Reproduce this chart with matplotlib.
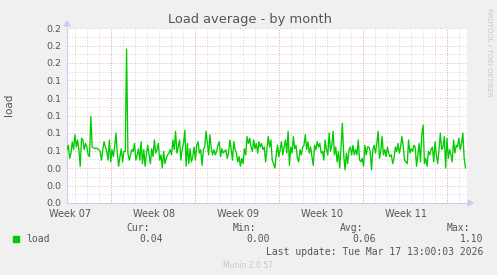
import numpy as np
import matplotlib.pyplot as plt

# load values left to right (2 h steps, ~1.3 px apart)
load = [
    0.061, 0.066, 0.051, 0.057, 0.070, 0.061, 0.078, 0.064, 0.072, 0.061,
    0.042, 0.074, 0.072, 0.061, 0.068, 0.064, 0.055, 0.053, 0.099, 0.064,
    0.063, 0.062, 0.063,
    0.062, 0.061, 0.059, 0.049, 0.061, 0.070, 0.064, 0.059, 0.049, 0.072,
    0.047, 0.061, 0.053, 0.064, 0.080, 0.057, 0.042, 0.053, 0.062, 0.047,
    0.059, 0.059, 0.176, 0.057, 0.049, 0.055, 0.061, 0.059, 0.068, 0.049,
    0.055, 0.062, 0.049, 0.070, 0.045, 0.061, 0.042, 0.057, 0.066, 0.055,
    0.045, 0.062, 0.053, 0.072, 0.057, 0.061, 0.068, 0.049, 0.055, 0.040,
    0.059, 0.045, 0.051, 0.055,
    0.057, 0.061, 0.055, 0.072, 0.061, 0.082, 0.057, 0.064, 0.072, 0.049,
    0.061, 0.068, 0.083, 0.042, 0.068, 0.045, 0.062, 0.047, 0.053, 0.064,
    0.049, 0.066, 0.070, 0.057, 0.061, 0.043, 0.061, 0.064, 0.082, 0.068,
    0.055, 0.078, 0.062, 0.055, 0.061, 0.055, 0.059, 0.066, 0.070, 0.053,
    0.062, 0.057, 0.059, 0.061, 0.051, 0.057, 0.072, 0.062, 0.049, 0.070,
    0.061, 0.057, 0.047, 0.053, 0.042, 0.051, 0.045, 0.062, 0.055, 0.076,
    0.068, 0.074, 0.064, 0.059, 0.072, 0.062, 0.068, 0.057, 0.070, 0.064,
    0.068, 0.061, 0.064, 0.047, 0.061,
    0.076, 0.064, 0.072, 0.049, 0.045, 0.040, 0.055, 0.066, 0.053, 0.061,
    0.070, 0.055, 0.064, 0.072, 0.057, 0.082, 0.043, 0.064, 0.057, 0.076,
    0.062, 0.066, 0.051, 0.047, 0.061, 0.055, 0.064, 0.066, 0.078, 0.061,
    0.070, 0.057, 0.064, 0.053, 0.043, 0.066, 0.061, 0.070, 0.064, 0.068,
    0.057, 0.059, 0.049, 0.072, 0.061, 0.055, 0.080, 0.059, 0.066, 0.082,
    0.055, 0.064, 0.047, 0.059, 0.040, 0.064, 0.091, 0.055, 0.038, 0.057,
    0.045, 0.061, 0.064, 0.055, 0.066, 0.055, 0.061, 0.055, 0.072, 0.049,
    0.047, 0.051, 0.042, 0.066, 0.055, 0.064,
    0.064, 0.059, 0.038, 0.061, 0.066, 0.057, 0.068, 0.082, 0.051, 0.059,
    0.076, 0.055, 0.061, 0.053, 0.064, 0.057, 0.053, 0.055, 0.045, 0.051,
    0.064, 0.059, 0.068, 0.057, 0.064, 0.076, 0.064, 0.049, 0.047, 0.045,
    0.072, 0.057, 0.062, 0.059, 0.066, 0.064, 0.042, 0.055, 0.068, 0.047,
    0.078, 0.089, 0.045, 0.051, 0.042, 0.059, 0.055, 0.061, 0.064, 0.047,
    0.070, 0.055, 0.045, 0.061, 0.080, 0.061, 0.064, 0.076, 0.040, 0.074,
    0.051, 0.061, 0.055, 0.047, 0.072, 0.057, 0.066, 0.064, 0.074, 0.061,
    0.068, 0.080, 0.051, 0.040,
]
hours_span = 797          # first to last sample, hours
week_starts = [88, 256, 424, 592, 760]
week_labels = ['Week 07', 'Week 08', 'Week 09', 'Week 10', 'Week 11']
label_pos = [6, 174, 342, 510, 678]

t = np.linspace(0, hours_span, len(load))

fig = plt.figure(figsize=(4.97, 2.75), dpi=100, facecolor='#f0f0f0')
ax = fig.add_axes([67/497, 72/275, 400/497, 175/275])
ax.set_facecolor('white')
ax.set_xlim(0, 800)
ax.set_ylim(0, 0.2)

# grid (rrdtool style)
for d in range(16, 800, 24):
    ax.axvline(d, color='#cccccc', lw=0.6, ls=(0, (1, 2)), zorder=1)
for w in week_starts:
    ax.axvline(w, color='#e69a9a', lw=0.6, ls=(0, (1, 2)), zorder=1.1)
for i in range(1, 21):
    y = i * 0.01
    if i % 2:
        ax.axhline(y, color='#cccccc', lw=0.6, ls=(0, (1, 2)), zorder=1)
    else:
        ax.axhline(y, color='#e69a9a', lw=0.6, ls=(0, (1, 2)), zorder=1.1)

ax.plot(t, load, color='#00cc00', lw=0.95, zorder=3)

for s in ['top', 'right']:
    ax.spines[s].set_visible(False)
for s in ['left', 'bottom']:
    ax.spines[s].set_color('#ccccee')
    ax.spines[s].set_linewidth(0.8)

yt = [i * 0.02 for i in range(11)]
ax.set_yticks(yt)
ax.set_yticklabels(['%.1f' % v for v in yt])
ax.set_xticks(label_pos)
ax.set_xticklabels(week_labels)
ax.tick_params(axis='y', length=0, labelsize=6.8, colors='#555555', pad=4)
ax.tick_params(axis='x', length=0, labelsize=7, colors='#555555', pad=4.5)
ax.set_ylabel('load', fontsize=7.5, color='#555555')
ax.yaxis.set_label_coords(-0.133, 0.56)

# axis arrows
fig.patches.append(plt.Polygon([[64/497, 1-26/275], [70/497, 1-26/275], [67/497, 1-21/275]],
                               closed=True, transform=fig.transFigure, color='#ccccee'))
fig.patches.append(plt.Polygon([[468/497, 1-200/275], [468/497, 1-206/275], [473/497, 1-203/275]],
                               closed=True, transform=fig.transFigure, color='#ccccee'))

fig.text(250/497, 1-19/275, 'Load average - by month', ha='center', va='center',
         fontsize=9.4, color='#555555')
fig.text(489/497, 1-52/275, 'RRDTOOL / TOBI OETIKER', rotation=270, ha='center', va='center',
         fontsize=5, color='#c8c8c8')

mono = dict(family='DejaVu Sans Mono', fontsize=7, color='#555555')
fig.text(150/497, 1-228/275, 'Cur:', ha='right', va='center', **mono)
fig.text(256/497, 1-228/275, 'Min:', ha='right', va='center', **mono)
fig.text(363/497, 1-228/275, 'Avg:', ha='right', va='center', **mono)
fig.text(470/497, 1-228/275, 'Max:', ha='right', va='center', **mono)
fig.patches.append(plt.Rectangle((13/497, 1-242/275), 6/497, 6/275,
                                 transform=fig.transFigure, color='#00cc00'))
fig.text(26/497, 1-239/275, 'load', ha='left', va='center', **mono)
fig.text(163/497, 1-239/275, '0.04', ha='right', va='center', **mono)
fig.text(270/497, 1-239/275, '0.00', ha='right', va='center', **mono)
fig.text(376/497, 1-239/275, '0.06', ha='right', va='center', **mono)
fig.text(483/497, 1-239/275, '1.10', ha='right', va='center', **mono)
fig.text(483/497, 1-252/275, 'Last update: Tue Mar 17 13:00:03 2026', ha='right', va='center', **mono)
fig.text(248/497, 1-266/275, 'Munin 2.0.57', ha='center', va='center',
         fontsize=5.5, color='#c8c8c8')

fig.savefig('out.png', dpi=100, facecolor=fig.get_facecolor())
